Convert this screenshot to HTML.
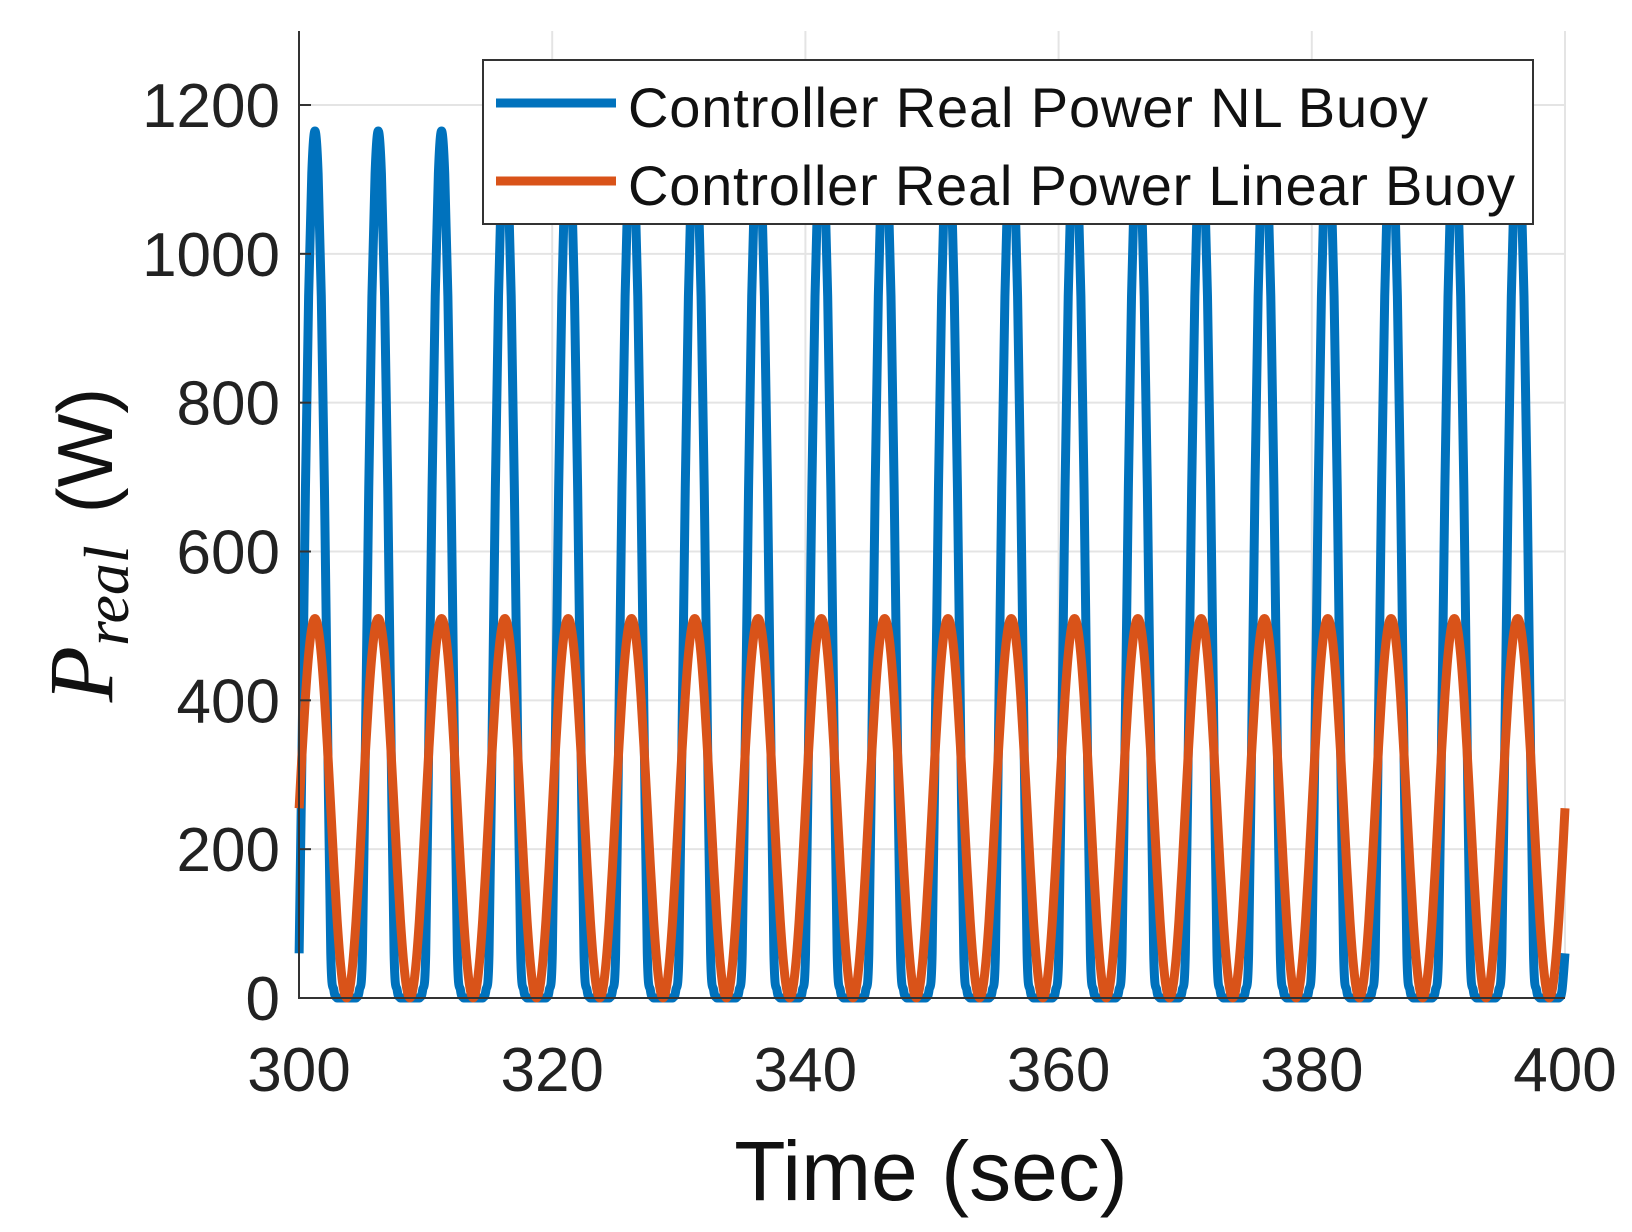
<!DOCTYPE html>
<html><head><meta charset="utf-8"><style>
html,body{margin:0;padding:0;background:#fff;}
svg{display:block;font-family:"Liberation Sans",sans-serif;}
</style></head><body>
<svg id="chart" width="1632" height="1232" viewBox="0 0 1632 1232" xmlns="http://www.w3.org/2000/svg">
<defs><clipPath id="plotclip"><rect x="290" y="20" width="1280" height="985"/></clipPath></defs>
<g id="grid"></g>
<g id="series" clip-path="url(#plotclip)"></g>
<g id="axes"></g>
<text x="931" y="1200" font-size="84" text-anchor="middle" fill="#111">Time (sec)</text>
<text transform="translate(112,545) rotate(-90)" text-anchor="middle" fill="#111" font-size="78"><tspan font-family="'Liberation Serif',serif" font-style="italic" font-size="92">P</tspan><tspan font-family="'Liberation Serif',serif" font-style="italic" font-size="64" dy="16">real</tspan><tspan dy="-16" dx="32">(W)</tspan></text>
<g>
<rect x="483" y="60" width="1050" height="164" fill="#fff" stroke="#333" stroke-width="2"/>
<line x1="496" y1="103" x2="616" y2="103" stroke="#0072BD" stroke-width="9"/>
<text x="628" y="127" font-size="56" fill="#111" textLength="800">Controller Real Power NL Buoy</text>
<line x1="496" y1="181" x2="616" y2="181" stroke="#D95319" stroke-width="9"/>
<text x="628" y="205" font-size="56" fill="#111" textLength="887">Controller Real Power Linear Buoy</text>
</g>
</svg>
<script>
// data
const xTicks = [300, 320, 340, 360, 380, 400];
const yTicks = [0, 200, 400, 600, 800, 1000, 1200];
const peakTimes = [296.26,301.26,306.26,311.26,316.26,321.26,326.26,331.26,336.26,341.26,346.26,351.26,356.26,361.26,366.26,371.26,376.26,381.26,386.26,391.26,396.26,401.26];
const cyclePhase = [-2.5,-2.25,-2,-1.75,-1.5,-1.25,-1,-0.75,-0.5,-0.25,0,0.25,0.5,0.75,1,1.25,1.5,1.75,2,2.25,2.5];
const nlBuoyShape = [0,0,0,0,10,60,360,685,943,1108,1165,1108,943,685,360,60,10,0,0,0,0];
const linearBuoyShape = [0,13,49,105,176,255,334,405,461,497,510,497,461,405,334,255,176,105,49,13,0];

const X0=299, X1=1565, Y0=998, Ytop=105;
const xs = t => X0 + (t-300)/(100)*(X1-X0);
const ys = v => Y0 - v/1200*(Y0-Ytop);
const NS='http://www.w3.org/2000/svg';
const grid=document.getElementById('grid'), axes=document.getElementById('axes'), series=document.getElementById('series');

xTicks.forEach(t=>{
  const l=document.createElementNS(NS,'line');
  
  
  l.setAttribute('x1',xs(t));l.setAttribute('x2',xs(t));l.setAttribute('y1',31);l.setAttribute('y2',Y0);
  l.setAttribute('stroke','#e4e4e4');l.setAttribute('stroke-width','2');grid.appendChild(l);
  const tx=document.createElementNS(NS,'text');
  
  
  tx.setAttribute('x',xs(t));tx.setAttribute('y',1091);tx.setAttribute('font-size','62');
  tx.setAttribute('text-anchor','middle');tx.setAttribute('fill','#222');tx.textContent=t;axes.appendChild(tx);
});
yTicks.forEach(v=>{
  const l=document.createElementNS(NS,'line');
  
  
  l.setAttribute('x1',X0);l.setAttribute('x2',X1);l.setAttribute('y1',ys(v));l.setAttribute('y2',ys(v));
  l.setAttribute('stroke','#e4e4e4');l.setAttribute('stroke-width','2');grid.appendChild(l);
  const tk=document.createElementNS(NS,'line');
  
  
  tk.setAttribute('x1',X0);tk.setAttribute('x2',X0+12);tk.setAttribute('y1',ys(v));tk.setAttribute('y2',ys(v));
  tk.setAttribute('stroke','#333');tk.setAttribute('stroke-width','2');axes.appendChild(tk);
  const tx=document.createElementNS(NS,'text');
  
  
  tx.setAttribute('x',280);tx.setAttribute('y',ys(v)+22);tx.setAttribute('font-size','62');
  tx.setAttribute('text-anchor','end');tx.setAttribute('fill','#222');tx.textContent=v;axes.appendChild(tx);
});
const ax=document.createElementNS(NS,'path');


ax.setAttribute('d',`M${X0},31 L${X0},${Y0} L${X1},${Y0}`);
ax.setAttribute('fill','none');ax.setAttribute('stroke','#333');ax.setAttribute('stroke-width','2');
axes.appendChild(ax);

function buildPath(shape){
  const pts=[];
  peakTimes.forEach(p=>{
    cyclePhase.forEach((ph,i)=>{
      if(i===0 && pts.length) return;
      const t=p+ph;
      if(t<299.8||t>400.2) return;
      pts.push([xs(Math.min(Math.max(t,300),400)),ys(shape[i])]);
    });
  });
  let d=`M${pts[0][0]},${pts[0][1]}`;
  for(let i=0;i<pts.length-1;i++){
    const p0=pts[i-1]||pts[i],p1=pts[i],p2=pts[i+1],p3=pts[i+2]||p2;
    const c1=[p1[0]+(p2[0]-p0[0])/6,p1[1]+(p2[1]-p0[1])/6];
    const c2=[p2[0]-(p3[0]-p1[0])/6,p2[1]-(p3[1]-p1[1])/6];
    d+=` C${c1[0]},${Math.min(c1[1],Y0)} ${c2[0]},${Math.min(c2[1],Y0)} ${p2[0]},${p2[1]}`;
  }
  return d;
}
const nl=document.createElementNS(NS,'path');


nl.setAttribute('d',buildPath(nlBuoyShape));
nl.setAttribute('fill','none');nl.setAttribute('stroke','#0072BD');nl.setAttribute('stroke-width','9');nl.setAttribute('stroke-linejoin','round');
series.appendChild(nl);
const lin=document.createElementNS(NS,'path');


lin.setAttribute('d',buildPath(linearBuoyShape));
lin.setAttribute('fill','none');lin.setAttribute('stroke','#D95319');lin.setAttribute('stroke-width','9');lin.setAttribute('stroke-linejoin','round');
series.appendChild(lin);
</script>
</body></html>
